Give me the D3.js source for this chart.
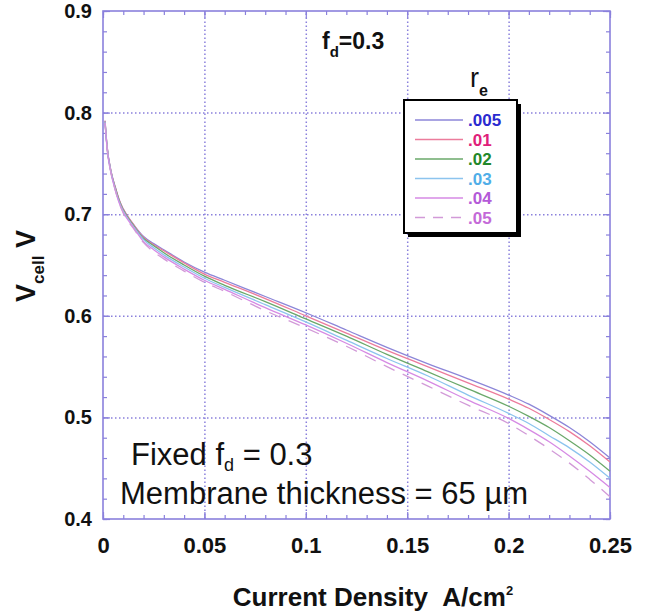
<!DOCTYPE html>
<html lang="en"><head><meta charset="UTF-8">
<title>Vcell vs current density</title>
<script src="https://d3js.org/d3.v7.min.js"></script>
<style type="text/css">
  body { margin: 0; background: #fff; }
  text { font-family: "Liberation Sans", Arial, sans-serif; }
</style>
</head>
<body>
<script type="text/javascript">

var w = 645;
var h = 611;
var margin = {top: 11, right: 35, bottom: 92, left: 103};
var width = w - margin.left - margin.right;
var height = h - margin.top - margin.bottom;

// current density (A/cm2)
var current = [0.001, 0.002, 0.004, 0.006, 0.008, 0.01, 0.015, 0.02, 0.025, 0.03, 0.04, 0.05, 0.06,
               0.08, 0.1, 0.12, 0.14, 0.16, 0.18, 0.2, 0.21, 0.22, 0.23, 0.24, 0.25];

// cell voltage for each r_e
var v005 = [0.792, 0.767, 0.742, 0.727, 0.714, 0.705, 0.690, 0.678, 0.671, 0.665, 0.653, 0.643, 0.635,
            0.619, 0.603, 0.586, 0.569, 0.553, 0.538, 0.522, 0.513, 0.502, 0.490, 0.476, 0.460];
var v01  = [0.792, 0.767, 0.742, 0.727, 0.714, 0.705, 0.690, 0.677, 0.670, 0.664, 0.652, 0.641, 0.633,
            0.617, 0.600, 0.583, 0.566, 0.550, 0.534, 0.518, 0.509, 0.498, 0.486, 0.472, 0.456];
var v02  = [0.791, 0.766, 0.741, 0.726, 0.713, 0.704, 0.689, 0.676, 0.669, 0.662, 0.650, 0.639, 0.630,
            0.614, 0.597, 0.580, 0.562, 0.545, 0.528, 0.511, 0.501, 0.490, 0.477, 0.463, 0.447];
var v03  = [0.791, 0.766, 0.741, 0.725, 0.712, 0.703, 0.688, 0.675, 0.667, 0.660, 0.648, 0.637, 0.628,
            0.611, 0.594, 0.576, 0.558, 0.541, 0.522, 0.504, 0.494, 0.482, 0.470, 0.456, 0.440];
var v04  = [0.790, 0.765, 0.740, 0.724, 0.711, 0.702, 0.687, 0.673, 0.665, 0.658, 0.646, 0.635, 0.626,
            0.608, 0.591, 0.573, 0.554, 0.536, 0.517, 0.499, 0.488, 0.476, 0.462, 0.447, 0.431];
var v05  = [0.790, 0.765, 0.740, 0.724, 0.711, 0.701, 0.686, 0.672, 0.663, 0.656, 0.644, 0.633, 0.624,
            0.605, 0.588, 0.570, 0.550, 0.531, 0.512, 0.494, 0.482, 0.469, 0.455, 0.439, 0.422];

var seriesNames = [".005", ".01", ".02", ".03", ".04", ".05"];
var seriesValues = [v005, v01, v02, v03, v04, v05];
var lineColors = ["#8c86d8", "#ec7c9c", "#6aa86a", "#8cc4ee", "#d68ae4", "#d29ad8"];
var labelColors = ["#2a2ad0", "#e0207a", "#22882a", "#50aee8", "#b45ad8", "#c46ad8"];

var xTicks = [0, 0.05, 0.1, 0.15, 0.2, 0.25];
var xTickLabels = ["0", "0.05", "0.1", "0.15", "0.2", "0.25"];
var yTicks = [0.4, 0.5, 0.6, 0.7, 0.8, 0.9];
var yTickLabels = ["0.4", "0.5", "0.6", "0.7", "0.8", "0.9"];
var xMinor = d3.range(0, 26).map(function(i) { return i / 100; });
var yMinor = d3.range(20, 46).map(function(i) { return i / 50; });

var axisColor = "#8a80dc";

var xScale = d3.scaleLinear().domain([0, 0.25]).range([0, width]);
var yScale = d3.scaleLinear().domain([0.4, 0.9]).range([height, 0]);

var svg = d3.select("body").append("svg")
    .attr("width", w)
    .attr("height", h);

var g = svg.append("g")
    .attr("transform", "translate(" + margin.left + "," + margin.top + ")");

// grid
g.append("g")
    .attr("transform", "translate(0," + height + ")")
    .call(d3.axisBottom(xScale).tickValues(xTicks.slice(1, -1)).tickSize(-height).tickFormat(""))
    .call(function(s) { s.select(".domain").remove(); })
    .selectAll("line")
    .attr("stroke", axisColor).attr("stroke-width", 1.5).attr("stroke-dasharray", "1.5,2.5");
g.append("g")
    .call(d3.axisLeft(yScale).tickValues(yTicks.slice(1, -1)).tickSize(-width).tickFormat(""))
    .call(function(s) { s.select(".domain").remove(); })
    .selectAll("line")
    .attr("stroke", axisColor).attr("stroke-width", 1.5).attr("stroke-dasharray", "1.5,2.5");

// frame ticks, pointing inward on all four sides
function styleAxis(s) {
  s.select(".domain").remove();
  s.selectAll("line").attr("stroke", axisColor).attr("stroke-width", 1.2);
}
var sides = [
  {axis: d3.axisBottom, tr: "translate(0," + height + ")", scale: xScale, minor: xMinor, major: xTicks},
  {axis: d3.axisTop, tr: "translate(0,0)", scale: xScale, minor: xMinor, major: xTicks},
  {axis: d3.axisLeft, tr: "translate(0,0)", scale: yScale, minor: yMinor, major: yTicks},
  {axis: d3.axisRight, tr: "translate(" + width + ",0)", scale: yScale, minor: yMinor, major: yTicks}
];
sides.forEach(function(sd) {
  g.append("g").attr("transform", sd.tr)
      .call(sd.axis(sd.scale).tickValues(sd.minor).tickSize(-4).tickFormat(""))
      .call(styleAxis);
  g.append("g").attr("transform", sd.tr)
      .call(sd.axis(sd.scale).tickValues(sd.major).tickSize(-7).tickFormat(""))
      .call(styleAxis);
});

g.append("rect")
    .attr("width", width).attr("height", height)
    .attr("fill", "none").attr("stroke", axisColor).attr("stroke-width", 1.6);

// tick labels
g.append("g")
    .attr("transform", "translate(0," + height + ")")
    .call(d3.axisBottom(xScale).tickValues(xTicks).tickSize(0).tickPadding(18)
      .tickFormat(function(d, i) { return xTickLabels[i]; }))
    .call(function(s) {
      s.select(".domain").remove();
      s.selectAll("text").attr("font-size", "22px").attr("font-weight", "bold")
        .attr("fill", "#111").attr("font-family", "Liberation Sans, Arial, sans-serif");
    });
g.append("g")
    .call(d3.axisLeft(yScale).tickValues(yTicks).tickSize(0).tickPadding(11)
      .tickFormat(function(d, i) { return yTickLabels[i]; }))
    .call(function(s) {
      s.select(".domain").remove();
      s.selectAll("text").attr("font-size", "20px").attr("font-weight", "bold")
        .attr("fill", "#111").attr("font-family", "Liberation Sans, Arial, sans-serif");
    });

// curves
var line = d3.line()
    .x(function(d, i) { return xScale(current[i]); })
    .y(function(d) { return yScale(d); })
    .curve(d3.curveMonotoneX);

g.selectAll(".curve")
    .data(seriesValues)
    .enter()
    .append("path")
    .attr("class", "curve")
    .attr("d", line)
    .attr("fill", "none")
    .attr("stroke", function(d, i) { return lineColors[i]; })
    .attr("stroke-width", 1.3)
    .attr("stroke-dasharray", function(d, i) { return i === 5 ? "12,9" : null; });

// legend
var lg = svg.append("g").attr("transform", "translate(404,100)");
lg.append("rect").attr("x", 4).attr("y", 4).attr("width", 113).attr("height", 133).attr("fill", "#000");
lg.append("rect").attr("width", 113).attr("height", 133)
    .attr("fill", "#fff").attr("stroke", "#000").attr("stroke-width", 2);
seriesNames.forEach(function(name, i) {
  var yy = 20 + i * 19.5;
  lg.append("line")
      .attr("x1", 11).attr("x2", 59).attr("y1", yy).attr("y2", yy)
      .attr("stroke", lineColors[i]).attr("stroke-width", 1.5)
      .attr("stroke-dasharray", i === 5 ? "10,8" : null);
  lg.append("text")
      .attr("x", 64).attr("y", yy + 6)
      .attr("font-size", "17px").attr("font-weight", "bold")
      .attr("fill", labelColors[i])
      .text(name);
});

// legend title r_e
var rt = svg.append("text").attr("x", 470).attr("y", 87).attr("font-size", "27px").attr("fill", "#111");
rt.append("tspan").text("r");
rt.append("tspan").attr("dy", 9).attr("font-size", "16px").attr("font-weight", "bold").text("e");

// f_d=0.3 header
var ft = svg.append("text").attr("x", 322).attr("y", 49).attr("font-size", "23px")
    .attr("font-weight", "bold").attr("fill", "#111");
ft.append("tspan").text("f");
ft.append("tspan").attr("dy", 8).attr("font-size", "15px").text("d");
ft.append("tspan").attr("dy", -8).text("=0.3");

// annotation
var a1 = svg.append("text").attr("x", 131).attr("y", 465).attr("font-size", "31px").attr("fill", "#111");
a1.append("tspan").text("Fixed f");
a1.append("tspan").attr("dy", 6).attr("font-size", "18px").text("d");
a1.append("tspan").attr("dy", -6).text(" = 0.3");
svg.append("text").attr("x", 120).attr("y", 504).attr("font-size", "31px").attr("fill", "#111")
    .text("Membrane thickness = 65 \u00b5m");

// axis titles
var xt = svg.append("text").attr("x", 373).attr("y", 606).attr("text-anchor", "middle")
    .attr("font-size", "26px").attr("font-weight", "bold").attr("fill", "#111");
xt.append("tspan").text("Current Density\u00a0\u00a0A/cm");
xt.append("tspan").attr("dy", -11).attr("font-size", "13px").text("2");

var yt = svg.append("text").attr("transform", "translate(35,302) rotate(-90)")
    .attr("font-size", "27px").attr("font-weight", "bold").attr("fill", "#111");
yt.append("tspan").text("V");
yt.append("tspan").attr("dy", 9).attr("font-size", "17px").text("cell");
yt.append("tspan").attr("dy", -9).text("\u00a0V");

</script>
</body>
</html>
